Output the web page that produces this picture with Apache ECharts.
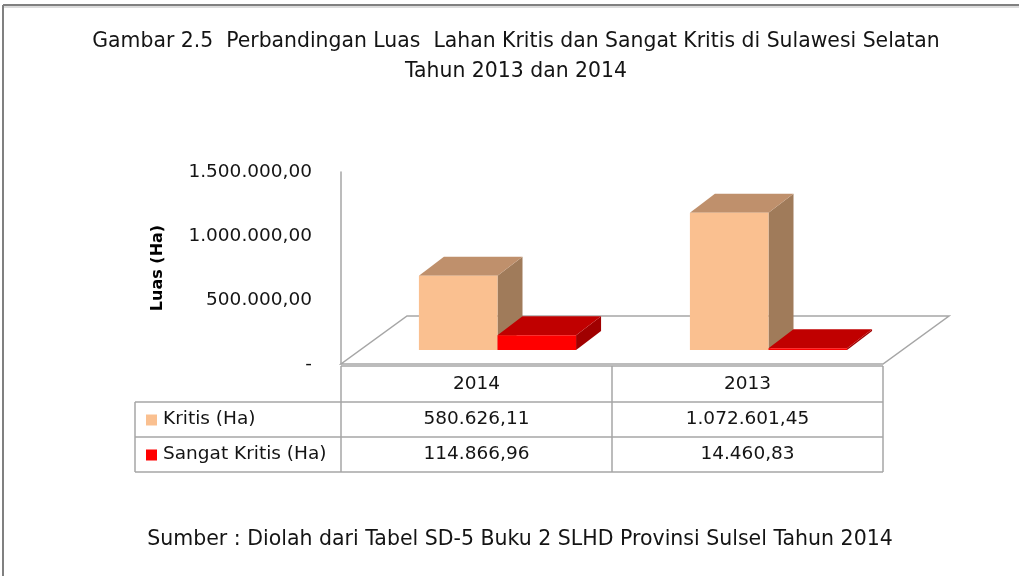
<!DOCTYPE html>
<html><head><meta charset="utf-8">
<script src="https://cdn.jsdelivr.net/npm/echarts@6/dist/echarts.min.js"></script>
<style>html,body{margin:0;padding:0;background:#fff}#c{width:1019px;height:576px}</style>
</head><body><div id="c"></div>
<script>
// ---- data ----
const titleLines = ['Gambar 2.5  Perbandingan Luas  Lahan Kritis dan Sangat Kritis di Sulawesi Selatan', 'Tahun 2013 dan 2014'];
const years = ['2014', '2013'];
const kritis = [580626.11, 1072601.45];
const sangatKritis = [114866.96, 14460.83];
const seriesNames = ['Kritis (Ha)', 'Sangat Kritis (Ha)'];
const yTicks = [0, 500000, 1000000, 1500000];
const yAxisName = 'Luas (Ha)';
const sourceText = 'Sumber : Diolah dari Tabel SD-5 Buku 2 SLHD Provinsi Sulsel Tahun 2014';

// ---- styles / layout ----
const FONT = 'DejaVu Sans';
const TXT = '#141414';
const LINE = '#a6a6a6';
const W = 1019, H = 576;
const GRID = {left: 341, top: 172, right: 136, bottom: 212};
const FRONT = [19, -14];   // shift of bar front face from front plane
const DEPTH = [25, -19];   // bar depth
const FLOOR = [66, -48];   // floor depth
const COLORS = [
  {front: '#FAC090', top: '#BF906C', side: '#A07B5A'},
  {front: '#FF0000', top: '#C00000', side: '#A00000'}
];

function fmtNum(v) {
  if (v === 0) return '-';
  const parts = Number(v).toFixed(2).split('.');
  return parts[0].replace(/\B(?=(\d{3})+(?!\d))/g, '.') + ',' + parts[1];
}

function barSeries(name, values, k) {
  const col = COLORS[k];
  return {
    type: 'custom', name: name, z: 3 + k, clip: false,
    data: values.map((v, i) => [i, v]),
    encode: {x: 0, y: 1},
    renderItem: function (params, api) {
      const i = api.value(0), v = api.value(1);
      const band = api.size([1, 0])[0];
      const bw = band * 0.29;
      const pTop = api.coord([i, v]);
      const pBase = api.coord([i, 0]);
      const x0 = pTop[0] + (k - 1) * bw + FRONT[0] + 2;
      const x1 = x0 + bw;
      const yT = pTop[1] + FRONT[1];
      const yB = pBase[1] + FRONT[1];
      const dx = DEPTH[0], dy = DEPTH[1];
      return {
        type: 'group',
        children: [
          {type: 'polygon', shape: {points: [[x1, yT], [x1 + dx, yT + dy], [x1 + dx, yB + dy], [x1, yB]]}, style: {fill: col.side}},
          {type: 'polygon', shape: {points: [[x0, yT], [x1, yT], [x1 + dx, yT + dy], [x0 + dx, yT + dy]]}, style: {fill: col.top}},
          {type: 'rect', shape: {x: x0, y: yT, width: bw, height: Math.max(yB - yT, 0.5)}, style: {fill: col.front}}
        ]
      };
    }
  };
}

const chart = echarts.init(document.getElementById('c'));
chart.setOption({
  animation: false,
  backgroundColor: '#fff',
  title: [
    {text: titleLines.join('\n'), left: 516, textAlign: 'center', top: 27, padding: 0,
     textStyle: {fontFamily: FONT, fontSize: 20.4, fontWeight: 'normal', color: TXT, lineHeight: 30}},
    {text: sourceText, left: 520, textAlign: 'center', top: 528, padding: 0,
     textStyle: {fontFamily: FONT, fontSize: 20.5, fontWeight: 'normal', color: TXT, lineHeight: 24}}
  ],
  grid: {left: GRID.left, top: GRID.top, right: GRID.right, bottom: GRID.bottom},
  xAxis: {
    type: 'category', data: years,
    axisLine: {show: false}, axisTick: {show: false},
    axisLabel: {fontFamily: FONT, fontSize: 18.5, color: TXT, margin: 11}
  },
  yAxis: {
    type: 'value', min: yTicks[0], max: yTicks[yTicks.length - 1], interval: yTicks[1] - yTicks[0],
    name: yAxisName, nameLocation: 'middle', nameRotate: 90, nameGap: 175,
    nameTextStyle: {fontFamily: FONT, fontSize: 16, fontWeight: 'bold', color: '#000'},
    axisLine: {show: true, lineStyle: {color: LINE, width: 1.5}},
    axisTick: {show: false}, splitLine: {show: false},
    axisLabel: {formatter: fmtNum, fontFamily: FONT, fontSize: 18.5, color: TXT, margin: 29}
  },
  series: [
    {
      type: 'custom', name: 'floor', z: 1, silent: true, clip: false,
      data: [[0, 0]], encode: {x: 0, y: 1},
      renderItem: function (params, api) {
        const cs = params.coordSys;
        const yb = cs.y + cs.height;
        return {type: 'polygon', shape: {points: [[cs.x, yb], [cs.x + cs.width, yb], [cs.x + cs.width + FLOOR[0], yb + FLOOR[1]], [cs.x + FLOOR[0], yb + FLOOR[1]]]},
          style: {fill: '#fff', stroke: LINE, lineWidth: 1.5}};
      }
    },
    barSeries(seriesNames[0], kritis, 0),
    barSeries(seriesNames[1], sangatKritis, 1)
  ]
});

// ---- data table under the plot ----
const gx0 = GRID.left, gx2 = W - GRID.right, gx1 = (gx0 + gx2) / 2;
const rows = [H - GRID.bottom + 2, 402, 437, 472];
const labelLeft = 135;
const centers = years.map(y => chart.convertToPixel({xAxisIndex: 0}, y));
const g = [];
function line(x1, y1, x2, y2, color, w) {
  g.push({type: 'line', silent: true, shape: {x1, y1, x2, y2}, style: {stroke: color || LINE, lineWidth: w || 1.5}});
}
function text(str, x, y, align) {
  g.push({type: 'text', silent: true, x: x, y: y, style: {text: str, fontFamily: FONT, fontSize: 18.5, fill: TXT, align: align || 'center', verticalAlign: 'middle'}});
}
// frame
line(3, 5, W, 5, '#808080', 2);
line(3, 7, W, 7, '#d0d0d0', 1.5);
line(3, 5, 3, H, '#808080', 2);
// table grid
line(gx0, rows[0], gx2, rows[0]);
for (let r = 1; r < 4; r++) line(labelLeft, rows[r], gx2, rows[r]);
line(labelLeft, rows[1], labelLeft, rows[3]);
[gx0, gx1, gx2].forEach(x => line(x, rows[0], x, rows[3]));
// rows
const tableRows = [kritis, sangatKritis];
tableRows.forEach((vals, r) => {
  const cy = (rows[r + 1] + rows[r + 2]) / 2;
  g.push({type: 'rect', silent: true, shape: {x: 146, y: cy - 5, width: 11, height: 11}, style: {fill: COLORS[r].front}});
  text(seriesNames[r], 163, cy, 'left');
  vals.forEach((v, i) => text(fmtNum(v), centers[i], cy, 'center'));
});
chart.setOption({graphic: g});
</script>
</body></html>
